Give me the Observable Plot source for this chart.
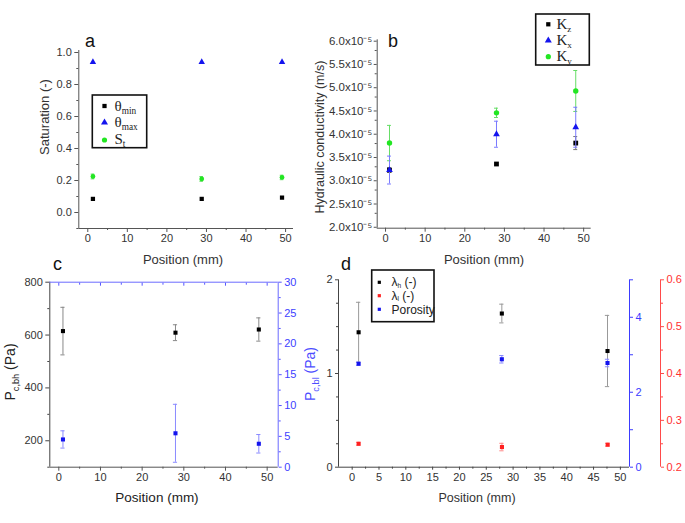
<!DOCTYPE html>
<html><head><meta charset="utf-8">
<script src="https://cdn.jsdelivr.net/npm/d3@7"></script>
<script src="https://cdn.jsdelivr.net/npm/@observablehq/plot@0.6"></script>
<style>
body{margin:0;background:#fff;}
#chart{position:relative;width:685px;height:523px;overflow:hidden;background:#fff;}
#chart svg{position:absolute;left:0;top:0;}
</style></head><body><div id="chart"></div>
<script>
const W = 685, H = 523;
const sans = '"Liberation Sans", Arial, sans-serif';
const serif = '"Liberation Serif", "Times New Roman", serif';

// ---- Panel a: saturation ----
const posA = [1.3, 28.8, 49.1];
const thetaMin = [0.085, 0.085, 0.093];
const thetaMax = [0.94, 0.94, 0.94];
const satS = [0.225, 0.21, 0.219];
const satSErr = [0.015, 0.015, 0.014];
const ticksA_x = [0, 10, 20, 30, 40, 50];
const ticksA_y = [0, 0.2, 0.4, 0.6, 0.8, 1.0];

// ---- Panel b: hydraulic conductivity (m/s) ----
const posB = [1, 28, 48];
const kz = [3.23e-5, 3.36e-5, 3.81e-5];
const kzErr = [0.05e-5, 0.02e-5, 0.14e-5];
const kx = [3.23e-5, 4.0e-5, 4.15e-5];
const kxErr = [0.30e-5, 0.28e-5, 0.43e-5];
const ky = [3.81e-5, 4.46e-5, 4.93e-5];
const kyErr = [0.38e-5, 0.10e-5, 0.44e-5];
const ticksB_y = [2.0e-5, 2.5e-5, 3.0e-5, 3.5e-5, 4.0e-5, 4.5e-5, 5.0e-5, 5.5e-5, 6.0e-5];

// ---- Panel c: capillary pressures ----
const posC = [1, 28, 48];
const pcbh = [615, 609, 621];
const pcbhErr = [90, 30, 44];
const pcbl = [4.5, 5.5, 3.8];
const pcblErr = [1.4, 4.7, 1.5];
const ticksC_y = [200, 400, 600, 800];
const ticksC_y2 = [0, 5, 10, 15, 20, 25, 30];

// ---- Panel d: lambda and porosity ----
const posD = [1.2, 27.9, 47.6];
const lambdaH = [1.44, 1.64, 1.24];
const lambdaHErr = [0.32, 0.10, 0.38];
const lambdaL = [0.25, 0.243, 0.248];
const lambdaLErr = [0.003, 0.008, 0.003];
const porosity = [2.76, 2.88, 2.78];
const porosityErr = [0.04, 0.10, 0.10];
const ticksD_x = [0, 5, 10, 15, 20, 25, 30, 35, 40, 45, 50];
const ticksD_y = [0, 1, 2];
const ticksD_yBlue = [0, 2, 4];
const ticksD_yRed = [0.2, 0.3, 0.4, 0.5, 0.6];

const rows = (xs, ys, es) => xs.map((x, i) => ({x, y: ys[i], e: es ? es[i] : 0}));
const range = (a, b, s) => d3.range(a, b + s / 2, s).map(v => +v.toFixed(6));
const chart = document.getElementById("chart");
const intFmt = d => String(d);

function series(data, {symbol = "square", r = 2.5, fill, err, cap}) {
  const m = [];
  if (err) {
    m.push(Plot.ruleX(data, {x: "x", y1: d => d.y - d.e, y2: d => d.y + d.e, stroke: err, strokeWidth: 1}));
    m.push(Plot.ruleY(data, {y: d => d.y + d.e, x1: d => d.x - cap, x2: d => d.x + cap, stroke: err, strokeWidth: 1}));
    m.push(Plot.ruleY(data, {y: d => d.y - d.e, x1: d => d.x - cap, x2: d => d.x + cap, stroke: err, strokeWidth: 1}));
  }
  m.push(Plot.dot(data, {x: "x", y: "y", symbol, r, fill}));
  return m;
}

function panel(o) {
  const xs = {domain: o.xd, label: null};
  if (o.noX) xs.axis = null;
  const svg = Plot.plot({
    width: W, height: H,
    marginLeft: o.l, marginRight: W - o.r, marginTop: o.t, marginBottom: H - o.b,
    x: xs,
    y: {domain: o.yd, label: null},
    style: {fontFamily: sans, fontSize: "11px", color: "#333", background: "transparent", overflow: "visible"},
    marks: o.marks
  });
  chart.append(svg);
}

const noText = () => "";

// Panel a
{
  const xd = [-2.27, 52.0], yd = [-0.1, 1.0125], cap = 0.45;
  panel({l: 78.3, r: 293, t: 50, b: 228, xd, yd, marks: [
    Plot.ruleX([xd[0]], {stroke: "#555"}),
    Plot.ruleY([yd[0]], {stroke: "#555"}),
    Plot.axisY({ticks: ticksA_y, tickSize: 4, tickPadding: 3, tickFormat: d3.format(".1f"), stroke: "#555", fill: "#333", fontSize: 11, label: null}),
    Plot.axisY({ticks: range(-0.1, 0.9, 0.2), tickSize: 2, tickFormat: noText, stroke: "#555", label: null}),
    Plot.axisX({ticks: ticksA_x, tickSize: 4, tickPadding: 2, tickFormat: intFmt, stroke: "#555", fill: "#333", fontSize: 11, label: null}),
    Plot.axisX({ticks: range(5, 45, 10), tickSize: 2, tickFormat: noText, stroke: "#555", label: null}),
    ...series(rows(posA, satS, satSErr), {symbol: "circle", r: 2.4, fill: "#22e622", err: "#66dd66", cap}),
    ...series(rows(posA, thetaMin), {symbol: "square", r: 2.4, fill: "#000"}),
    ...series(rows(posA, thetaMax), {symbol: "triangle", r: 2.4, fill: "#1414ee"})
  ]});
}

// Panel b
{
  const xd = [-2.1, 51.9], yd = [1.98e-5, 6.03e-5], cap = 0.5;
  panel({l: 376.7, r: 590.7, t: 39.3, b: 227.7, xd, yd, marks: [
    Plot.ruleX([xd[0]], {stroke: "#555"}),
    Plot.ruleY([yd[0]], {stroke: "#555"}),
    Plot.axisY({ticks: ticksB_y, tickSize: 3, tickPadding: 2, tickFormat: d => (d * 1e5).toFixed(1) + "x10\u207B\u2075", stroke: "#555", fill: "#333", fontSize: 11.5, label: null}),
    Plot.axisY({ticks: range(2.25e-5, 5.75e-5, 0.5e-5), tickSize: 2, tickFormat: noText, stroke: "#555", label: null}),
    Plot.axisX({ticks: ticksA_x, tickSize: 4, tickPadding: 2, tickFormat: intFmt, stroke: "#555", fill: "#333", fontSize: 11, label: null}),
    Plot.axisX({ticks: range(5, 45, 10), tickSize: 2, tickFormat: noText, stroke: "#555", label: null}),
    ...series(rows(posB, ky, kyErr), {symbol: "circle", r: 2.7, fill: "#22e622", err: "#66dd66", cap}),
    ...series(rows(posB, kz, kzErr), {symbol: "square", r: 2.7, fill: "#000", err: "#777", cap}),
    ...series(rows(posB, kx, kxErr), {symbol: "triangle", r: 2.5, fill: "#1414ee", err: "#7a7aff", cap})
  ]});
}

// Panel c (left axis: Pc,bh)
{
  const xd = [-2.16, 52.65], yd = [100, 800], cap = 0.5;
  panel({l: 49.3, r: 277.7, t: 281.7, b: 466.7, xd, yd, marks: [
    Plot.ruleX([xd[0]], {stroke: "#444"}),
    Plot.ruleY([yd[0]], {stroke: "#555"}),
    Plot.axisY({ticks: ticksC_y, tickSize: 4, tickPadding: 3, tickFormat: intFmt, stroke: "#444", fill: "#333", fontSize: 11, label: null}),
    Plot.axisY({ticks: [100, 300, 500, 700], tickSize: 2, tickFormat: noText, stroke: "#444", label: null}),
    Plot.axisX({ticks: ticksA_x, tickSize: 4, tickPadding: 2, tickFormat: intFmt, stroke: "#555", fill: "#333", fontSize: 11, label: null}),
    Plot.axisX({ticks: range(5, 45, 10), tickSize: 2, tickFormat: noText, stroke: "#555", label: null}),
    ...series(rows(posC, pcbh, pcbhErr), {symbol: "square", r: 2.3, fill: "#000", err: "#888", cap})
  ]});
}
// Panel c (right axis: Pc,bl)
{
  const xd = [-2.16, 52.65], yd = [0, 30], cap = 0.5;
  panel({l: 49.3, r: 277.7, t: 281.7, b: 466.7, xd, yd, marks: [
    Plot.ruleX([xd[1]], {stroke: "#6b6bff"}),
    Plot.ruleY([yd[1]], {stroke: "#6b6bff"}),
    Plot.axisY({anchor: "right", ticks: ticksC_y2, tickSize: 3, tickPadding: 3, tickFormat: intFmt, stroke: "#5555ff", fill: "#4040ff", fontSize: 11, label: null}),
    Plot.axisY({anchor: "right", ticks: range(2.5, 27.5, 5), tickSize: 2, tickFormat: noText, stroke: "#5555ff", label: null}),
    Plot.axisX({anchor: "top", ticks: ticksA_x, tickSize: -3, tickFormat: noText, stroke: "#5555ff", label: null}),
    Plot.axisX({anchor: "top", ticks: range(5, 45, 10), tickSize: -2, tickFormat: noText, stroke: "#5555ff", label: null}),
    ...series(rows(posC, pcbl, pcblErr), {symbol: "square", r: 2.3, fill: "#1414ee", err: "#8a8aff", cap})
  ]});
}

// Panel d (left axis: lambda_h)
{
  const xd = [-2.55, 51.7], yd = [0, 2], cap = 0.4;
  panel({l: 338, r: 629, t: 279.3, b: 466.7, xd, yd, marks: [
    Plot.ruleX([xd[0]], {stroke: "#444"}),
    Plot.ruleY([yd[0]], {stroke: "#444"}),
    Plot.axisY({ticks: ticksD_y, tickSize: 3, tickPadding: 3, tickFormat: intFmt, stroke: "#444", fill: "#333", fontSize: 11, label: null}),
    Plot.axisY({ticks: range(0.25, 1.75, 0.25), tickSize: 2, tickFormat: noText, stroke: "#444", label: null}),
    Plot.axisX({ticks: ticksD_x, tickSize: 3, tickPadding: 3, tickFormat: intFmt, stroke: "#444", fill: "#333", fontSize: 11, label: null}),
    Plot.axisX({ticks: range(2.5, 47.5, 5), tickSize: 2, tickFormat: noText, stroke: "#444", label: null}),
    ...series(rows(posD, lambdaH, lambdaHErr), {symbol: "square", r: 2.3, fill: "#000", err: "#999", cap})
  ]});
}
// Panel d (blue axis: porosity)
{
  const xd = [-2.55, 51.7], yd = [0, 5], cap = 0.4;
  panel({l: 338, r: 629, t: 279.3, b: 466.7, xd, yd, noX: true, marks: [
    Plot.ruleX([xd[1]], {stroke: "#3b3bff"}),
    Plot.axisY({anchor: "right", ticks: ticksD_yBlue, tickSize: 3, tickPadding: 3, tickFormat: intFmt, stroke: "#3b3bff", fill: "#3b3bff", fontSize: 11, label: null}),
    Plot.axisY({anchor: "right", ticks: [1, 3, 5], tickSize: 3, tickFormat: noText, stroke: "#3b3bff", label: null}),
    ...series(rows(posD, porosity, porosityErr), {symbol: "square", r: 2.3, fill: "#1414ee", err: "#8a8aff", cap})
  ]});
}
// Panel d (red axis: lambda_l)
{
  const xd = [-2.55, 57.44], yd = [0.2, 0.6], cap = 0.4;
  panel({l: 338, r: 660, t: 279.3, b: 466.7, xd, yd, noX: true, marks: [
    Plot.ruleX([xd[1]], {stroke: "#ff4a4a"}),
    Plot.axisY({anchor: "right", ticks: ticksD_yRed, tickSize: 3, tickPadding: 3, tickFormat: d3.format(".1f"), stroke: "#ff4a4a", fill: "#ff3030", fontSize: 11, label: null}),
    Plot.axisY({anchor: "right", ticks: range(0.25, 0.55, 0.1), tickSize: 2, tickFormat: noText, stroke: "#ff4a4a", label: null}),
    ...series(rows(posD, lambdaL, lambdaLErr), {symbol: "square", r: 2.3, fill: "#ff2020", err: "#ff8a8a", cap})
  ]});
}

// ---- Overlay: titles, panel letters, legends ----
const ov = d3.select(chart).append("svg").attr("width", W).attr("height", H);

function label(x, y, parts, o = {}) {
  const size = o.size || 13;
  const t = ov.append("text").attr("x", x).attr("y", y)
    .attr("font-family", o.family || sans).attr("font-size", size)
    .attr("fill", o.fill || "#333").attr("text-anchor", o.anchor || "start");
  if (o.rotate) t.attr("transform", `rotate(${o.rotate},${x},${y})`);
  if (o.weight) t.attr("font-weight", o.weight);
  let shift = 0;
  for (const p of parts) {
    const [s, sub] = typeof p === "string" ? [p, false] : p;
    const target = sub ? size * (o.subShift || 0.3) : 0;
    const ts = t.append("tspan").attr("dy", target - shift).text(s);
    if (sub) ts.attr("font-size", size * (o.subScale || 0.66));
    shift = target;
  }
}
function sym(type, x, y, r, fill) {
  ov.append("path").attr("transform", `translate(${x},${y})`)
    .attr("d", d3.symbol(type, Math.PI * r * r)()).attr("fill", fill);
}
function box(x, y, w, h) {
  ov.append("rect").attr("x", x).attr("y", y).attr("width", w).attr("height", h)
    .attr("fill", "#fff").attr("stroke", "#111").attr("stroke-width", 1.6);
}

// panel letters
label(85, 47, ["a"], {size: 18, fill: "#111"});
label(388, 47, ["b"], {size: 18, fill: "#111"});
label(53, 270, ["c"], {size: 18, fill: "#111"});
label(341, 270, ["d"], {size: 18, fill: "#111"});

// axis titles
label(48.5, 117, ["Saturation (-)"], {rotate: -90, anchor: "middle"});
label(324, 137, ["Hydraulic conductivity  (m/s)"], {rotate: -90, anchor: "middle", size: 12.5});
label(183, 264, ["Position (mm)"], {anchor: "middle"});
label(484, 264, ["Position (mm)"], {anchor: "middle"});
label(157, 502, ["Position (mm)"], {anchor: "middle", size: 13.5, fill: "#222"});
label(477, 502, ["Position (mm)"], {anchor: "middle", size: 12.5});
label(14.5, 372, ["P", ["c,bh", true], " (Pa)"], {rotate: -90, anchor: "middle", size: 14, fill: "#222"});
label(315, 374, ["P", ["c,bl", true], " (Pa)"], {rotate: -90, anchor: "middle", size: 14, fill: "#4d4dff"});

// legend a
box(92.3, 95, 54.4, 52.7);
sym(d3.symbolSquare, 104.5, 106, 2.4, "#000");
sym(d3.symbolTriangle, 104.5, 122.5, 2.6, "#1414ee");
sym(d3.symbolCircle, 104.5, 140, 2.6, "#22e622");
const legA = {family: serif, size: 15, fill: "#222", subShift: 0.22, subScale: 0.62};
label(114.5, 110.5, ["\u03B8", ["min", true]], legA);
label(114.5, 126.5, ["\u03B8", ["max", true]], legA);
label(114.5, 144, ["S", ["t", true]], legA);

// legend b
box(535.7, 14, 53.6, 51);
sym(d3.symbolSquare, 548.3, 24.3, 2.4, "#000");
sym(d3.symbolTriangle, 548.3, 40.5, 2.6, "#1414ee");
sym(d3.symbolCircle, 548.3, 56.7, 2.6, "#22e622");
const legB = {family: serif, size: 15, fill: "#222", subShift: 0.22, subScale: 0.6};
label(556.5, 29, ["K", ["z", true]], legB);
label(556.5, 45, ["K", ["x", true]], legB);
label(556.5, 61, ["K", ["y", true]], legB);

// legend d
box(371.7, 270, 62.3, 51.7);
sym(d3.symbolSquare, 379.3, 282.3, 1.8, "#000");
sym(d3.symbolSquare, 379.3, 295.7, 1.8, "#ff2020");
sym(d3.symbolSquare, 379.3, 309.3, 1.8, "#1414ee");
const legD = {size: 12, fill: "#222", subShift: 0.15, subScale: 0.55};
label(391.5, 286, ["\u03BB", ["h", true], " (-)"], legD);
label(391.5, 299.5, ["\u03BB", ["l", true], " (-)"], legD);
label(391.5, 313.5, ["Porosity"], legD);
</script></body></html>
